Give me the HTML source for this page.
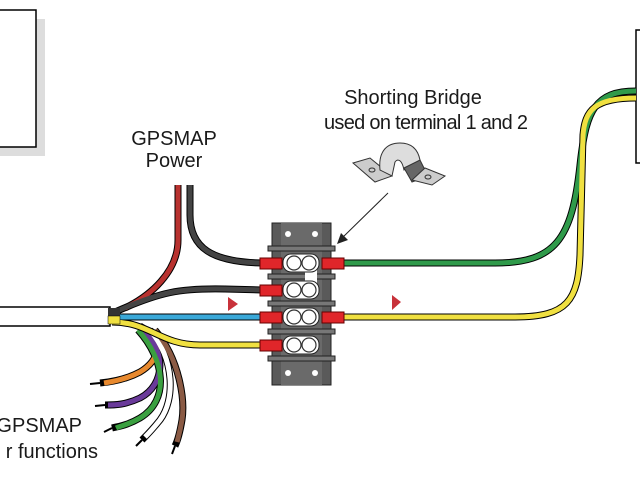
<!DOCTYPE html>
<html><head><meta charset="utf-8"><style>
html,body{margin:0;padding:0;background:#fff;width:640px;height:480px;overflow:hidden}
svg{display:block}
text{font-family:"Liberation Sans",Arial,sans-serif;font-size:20px;fill:#1a1a1a}
</style></head><body>
<svg width="640" height="480" viewBox="0 0 640 480" xmlns="http://www.w3.org/2000/svg">
<rect x="0" y="19" width="45" height="137" fill="#ddd"/>
<rect x="-2" y="10" width="38" height="137" fill="#fff" stroke="#000" stroke-width="1.5"/>
<rect x="636" y="30" width="10" height="133" fill="#fff" stroke="#000" stroke-width="1.5"/>

<g fill="none" stroke-linecap="butt" stroke-linejoin="round">
<g stroke="#000" stroke-width="7">
<path d="M140,326 C165,340 160,360 140,372 C125,380 110,382 100,383"/>
<path d="M140,328 C168,350 165,385 140,398 C125,405 115,405 105,405"/>
<path d="M138,330 C165,360 170,400 140,418 C128,425 120,426 112,428"/>
<path d="M150,330 C175,360 175,400 160,420 C152,430 148,434 142,440"/>
<path d="M155,330 C180,360 185,400 182,420 C180,432 178,440 175,446"/>
</g>
<g stroke-width="5">
<path d="M140,326 C165,340 160,360 140,372 C125,380 110,382 104,383" stroke="#e8892e"/>
<path d="M140,328 C168,350 165,385 140,398 C125,405 115,405 108,405" stroke="#6a3a9a"/>
<path d="M138,330 C165,360 170,400 140,418 C128,425 120,426 116,428" stroke="#3aa040"/>
<path d="M150,330 C175,360 175,400 160,420 C152,430 148,434 145,437" stroke="#fff"/>
<path d="M155,330 C180,360 185,400 182,420 C180,432 178,438 177,442" stroke="#8a5a44"/>
</g>
<g stroke="#000" stroke-width="2">
<path d="M100,383 L90,384"/><path d="M105,405 L95,406"/><path d="M112,428 L104,432"/><path d="M142,440 L136,446"/><path d="M175,446 L172,454"/>
</g>
<g stroke="#000" stroke-width="7">
<path d="M178,185 L178,240 C178,272 150,296 125,308"/>
<path d="M190,185 L190,215 C190,248 212,262 262,263"/>
<path d="M115,312 C160,292 180,288 225,289 L262,290"/>
<path d="M115,317 L262,317"/>
<path d="M112,322 C150,322 160,345 200,345 L262,345"/>
<path d="M342,263 L495,263 C555,263 572,240 580,165 C586,110 595,91 636,91"/>
<path d="M342,317 L515,317 C568,317 578,300 580,255 L583,135 C585,110 595,98 636,98"/>
</g>
<path d="M178,185 L178,240 C178,272 150,296 125,308" stroke="#b8322f" stroke-width="5"/>
<path d="M190,185 L190,215 C190,248 212,262 262,263" stroke="#444" stroke-width="5"/>
<path d="M115,312 C160,292 180,288 225,289 L262,290" stroke="#444" stroke-width="5"/>
<path d="M115,317 L262,317" stroke="#3aa8d8" stroke-width="5"/>
<path d="M112,322 C150,322 160,345 200,345 L262,345" stroke="#f0e040" stroke-width="5"/>
<path d="M342,263 L495,263 C555,263 572,240 580,165 C586,110 595,91 636,91" stroke="#2f9a4a" stroke-width="5"/>
<path d="M342,317 L515,317 C568,317 578,300 580,255 L583,135 C585,110 595,98 636,98" stroke="#f0e040" stroke-width="5"/>
</g>
<rect x="-2" y="307" width="112" height="19" fill="#fff" stroke="#000" stroke-width="1.5"/>
<rect x="108" y="308" width="12" height="8" fill="#333"/>
<rect x="108" y="316" width="12" height="8" fill="#f0e040" stroke="#000" stroke-width="0.5"/>

<rect x="272" y="223" width="59" height="162" fill="#5a5a5a" stroke="#222"/>
<rect x="281" y="223" width="41" height="162" fill="#6a6a6a"/>
<g fill="#fff"><circle cx="288" cy="234" r="3"/><circle cx="315" cy="234" r="3"/><circle cx="288" cy="373" r="3"/><circle cx="315" cy="373" r="3"/></g>
<g fill="#777" stroke="#222">
<rect x="268" y="246" width="67" height="5"/><rect x="268" y="274" width="67" height="5"/><rect x="268" y="301" width="67" height="5"/><rect x="268" y="329" width="67" height="5"/><rect x="268" y="356" width="67" height="5"/>
</g>
<rect x="305" y="266" width="12" height="22" fill="#fff"/>
<g fill="#fff" stroke="#222">
<rect x="283" y="254" width="36" height="18" rx="8"/><rect x="283" y="281" width="36" height="18" rx="8"/><rect x="283" y="308" width="36" height="18" rx="8"/><rect x="283" y="336" width="36" height="18" rx="8"/>
</g>
<g fill="#fff" stroke="#333" stroke-width="1.2">
<circle cx="294" cy="263" r="7"/><circle cx="309" cy="263" r="7"/>
<circle cx="294" cy="290" r="7"/><circle cx="309" cy="290" r="7"/>
<circle cx="294" cy="317" r="7"/><circle cx="309" cy="317" r="7"/>
<circle cx="294" cy="345" r="7"/><circle cx="309" cy="345" r="7"/>
</g>
<g fill="#e0262a" stroke="#600">
<rect x="260" y="258" width="22" height="11"/><rect x="260" y="285" width="22" height="11"/><rect x="260" y="312" width="22" height="11"/><rect x="260" y="340" width="22" height="11"/>
<rect x="322" y="258" width="22" height="11"/><rect x="322" y="312" width="22" height="11"/>
</g>
<polygon points="228,297 238,304 228,311" fill="#c8323a"/>
<polygon points="392,295 401,302 392,310" fill="#c8323a"/>
<polygon points="353,163 370,158 392,176 375,182" fill="#ccc" stroke="#333"/>
<path d="M380,170 C378,150 388,143 400,143 C412,143 418,150 420,160 L404,170 C402,160 398,158 395,162 L392,176 Z" fill="#ddd" stroke="#333"/>
<polygon points="404,168 420,160 428,176 412,182" fill="#666" stroke="#333"/>
<polygon points="412,180 425,168 445,176 432,185" fill="#ccc" stroke="#333"/>
<ellipse cx="372" cy="170" rx="3" ry="2" fill="none" stroke="#333"/>
<ellipse cx="428" cy="177" rx="3" ry="2" fill="none" stroke="#333"/>
<line x1="388" y1="193" x2="340" y2="240" stroke="#222" stroke-width="1"/>
<polygon points="337,244 341,233 348,240" fill="#222"/>
<text x="413" y="104" text-anchor="middle">Shorting Bridge</text>
<text x="426" y="129" text-anchor="middle" textLength="204">used on terminal 1 and 2</text>
<text x="174" y="145" text-anchor="middle">GPSMAP</text>
<text x="174" y="167" text-anchor="middle">Power</text>
<text x="82" y="432" text-anchor="end">GPSMAP</text>
<text x="98" y="458" text-anchor="end">r functions</text>
</svg>
</body></html>
